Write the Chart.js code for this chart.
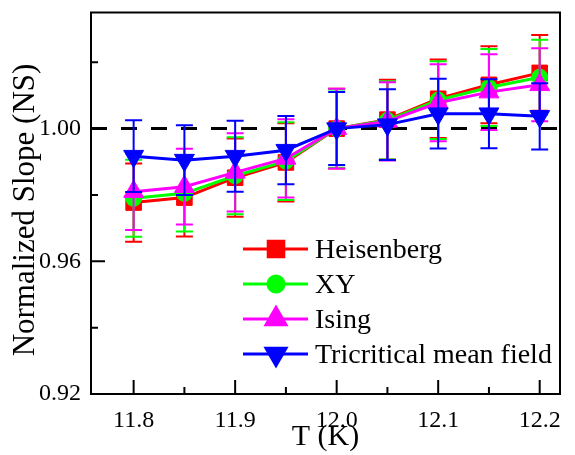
<!DOCTYPE html>
<html lang="en">
<head>
    <meta charset="UTF-8">
    <title>Normalized Slope</title>
    <script src="https://cdn.jsdelivr.net/npm/chart.js"></script>
    <style>
        html, body { margin: 0; padding: 0; background: #fff; }
        #wrap { width: 575px; height: 455px; }
    </style>
</head>
<body>
    <div id="wrap"><canvas id="myChart" width="575" height="455"></canvas></div>
    <script>
        // data
        var temps = [11.8, 11.85, 11.9, 11.95, 12.0, 12.05, 12.1, 12.15, 12.2];
        var heisenberg = [0.9777, 0.9792, 0.9852, 0.9898, 1.0000, 1.0027, 1.0090, 1.0132, 1.0168];
        var heisenbergErr = [0.0118, 0.0117, 0.0118, 0.0118, 0.0120, 0.0120, 0.0118, 0.0116, 0.0114];
        var xy = [0.9790, 0.9805, 0.9858, 0.9902, 1.0000, 1.0025, 1.0086, 1.0124, 1.0155];
        var xyErr = [0.0116, 0.0115, 0.0116, 0.0117, 0.0118, 0.0118, 0.0117, 0.0116, 0.0113];
        var ising = [0.9810, 0.9825, 0.9868, 0.9910, 1.0000, 1.0022, 1.0078, 1.0110, 1.0132];
        var isingErr = [0.0116, 0.0114, 0.0118, 0.0118, 0.0120, 0.0118, 0.0116, 0.0114, 0.0110];
        var tricritical = [0.9917, 0.9905, 0.9917, 0.9935, 1.0000, 1.0012, 1.0045, 1.0045, 1.0037];
        var tricriticalErr = [0.0108, 0.0105, 0.0107, 0.0103, 0.0110, 0.0107, 0.0105, 0.0104, 0.0100];

        var seriesNames = ['Heisenberg', 'XY', 'Ising', 'Tricritical mean field'];
        var xTicks = [11.8, 11.9, 12.0, 12.1, 12.2];
        var xMinor = [11.85, 11.95, 12.05, 12.15];
        var yTicks = [0.92, 0.96, 1.00];
        var yMinor = [0.94, 0.98, 1.02];
        var refLevel = 1.00;
        var yTitle = 'Normalized Slope (NS)';

        function pts(vals) {
            return vals.map(function(v, i) { return { x: temps[i], y: v }; });
        }

        var serif = "'Liberation Serif', 'Times New Roman', serif";
        Chart.defaults.font.family = serif;
        Chart.defaults.color = '#000';

        // error bars, drawn right after each dataset
        var errorBars = {
            id: 'errorBars',
            afterDatasetDraw: function(chart, args) {
                var ds = chart.data.datasets[args.index];
                if (!ds.errors) return;
                var y = chart.scales.y;
                var ctx = chart.ctx;
                ctx.save();
                ctx.strokeStyle = ds.borderColor;
                ctx.lineWidth = 2;
                args.meta.data.forEach(function(p, i) {
                    var v = ds.data[i].y, e = ds.errors[i];
                    var top = y.getPixelForValue(v + e), bot = y.getPixelForValue(v - e);
                    ctx.beginPath();
                    ctx.moveTo(p.x, top); ctx.lineTo(p.x, bot);
                    ctx.moveTo(p.x - 8.5, top); ctx.lineTo(p.x + 8.5, top);
                    ctx.moveTo(p.x - 8.5, bot); ctx.lineTo(p.x + 8.5, bot);
                    ctx.stroke();
                });
                ctx.restore();
            }
        };

        // box frame with inward ticks on left and bottom, plus the y title
        var frame = {
            id: 'frame',
            afterDatasetsDraw: function(chart) {
                var a = chart.chartArea, ctx = chart.ctx;
                var xs = chart.scales.x, ys = chart.scales.y;
                ctx.save();
                ctx.strokeStyle = '#000';
                ctx.lineWidth = 2;
                ctx.strokeRect(a.left, a.top, a.right - a.left, a.bottom - a.top);
                ctx.beginPath();
                xTicks.forEach(function(v) { var px = xs.getPixelForValue(v); ctx.moveTo(px, a.bottom); ctx.lineTo(px, a.bottom - 14); });
                xMinor.forEach(function(v) { var px = xs.getPixelForValue(v); ctx.moveTo(px, a.bottom); ctx.lineTo(px, a.bottom - 7); });
                yTicks.forEach(function(v) { var py = ys.getPixelForValue(v); ctx.moveTo(a.left, py); ctx.lineTo(a.left + 14, py); });
                yMinor.forEach(function(v) { var py = ys.getPixelForValue(v); ctx.moveTo(a.left, py); ctx.lineTo(a.left + 7, py); });
                ctx.stroke();

                // y title sits a bit below the axis middle in the original
                ctx.translate(26, 210);
                ctx.rotate(-Math.PI / 2);
                ctx.fillStyle = '#000';
                ctx.font = '31px ' + serif;
                ctx.textAlign = 'center';
                ctx.textBaseline = 'middle';
                ctx.fillText(yTitle, 0, 0);
                ctx.restore();
            }
        };

        // legend: line + marker + label, inside the plot
        var boxLegend = {
            id: 'boxLegend',
            afterDraw: function(chart) {
                var ctx = chart.ctx;
                ctx.save();
                chart.data.datasets.forEach(function(ds) {
                    if (ds.legendRow === undefined) return;
                    var rowY = 249 + ds.legendRow * 35;
                    ctx.strokeStyle = ds.borderColor;
                    ctx.lineWidth = 3;
                    ctx.beginPath();
                    ctx.moveTo(243, rowY); ctx.lineTo(308, rowY);
                    ctx.stroke();
                    ctx.fillStyle = ds.borderColor;
                    Chart.helpers.drawPoint(ctx, {
                        pointStyle: ds.pointStyle, radius: ds.pointRadius,
                        rotation: ds.pointRotation || 0, borderWidth: 1
                    }, 276, rowY);
                    ctx.fillStyle = '#000';
                    ctx.font = '28px ' + serif;
                    ctx.textBaseline = 'alphabetic';
                    ctx.fillText(ds.label, 315, rowY + 9);
                });
                ctx.restore();
            }
        };

        function series(idx, vals, errs, color, style, radius, rot) {
            return {
                label: seriesNames[idx],
                data: pts(vals),
                errors: errs,
                legendRow: idx,
                order: 4 - idx,
                borderColor: color,
                backgroundColor: color,
                borderWidth: 3,
                pointStyle: style,
                pointRadius: radius,
                pointHoverRadius: radius,
                pointRotation: rot || 0,
                pointBorderWidth: 1,
                tension: 0
            };
        }

        new Chart(document.getElementById('myChart'), {
            type: 'line',
            data: {
                datasets: [
                    {
                        label: 'ref',
                        data: [{ x: 11.758, y: refLevel }, { x: 12.22, y: refLevel }],
                        borderColor: '#000',
                        borderWidth: 3,
                        borderDash: [16, 14],
                        pointRadius: 0,
                        order: 10
                    },
                    series(0, heisenberg, heisenbergErr, '#ff0000', 'rect', 11),
                    series(1, xy, xyErr, '#00ff00', 'circle', 8),
                    series(2, ising, isingErr, '#ff00ff', 'triangle', 11.5),
                    series(3, tricritical, tricriticalErr, '#0000ff', 'triangle', 11.5, 180)
                ]
            },
            options: {
                responsive: false,
                animation: false,
                layout: { padding: { top: 12, right: 15, left: 0, bottom: 0 } },
                plugins: { legend: { display: false }, tooltip: { enabled: false } },
                scales: {
                    x: {
                        type: 'linear',
                        min: 11.758,
                        max: 12.22,
                        grid: { display: false },
                        border: { display: false },
                        afterBuildTicks: function(s) { s.ticks = xTicks.map(function(v) { return { value: v }; }); },
                        afterFit: function(s) { s.height = 61; s.paddingLeft = 0; s.paddingRight = 0; },
                        ticks: {
                            font: { family: serif, size: 24 },
                            padding: 4,
                            maxRotation: 0,
                            callback: function(v) { return v.toFixed(1); }
                        },
                        title: { display: true, text: 'T (K)', font: { family: serif, size: 30 }, padding: 0 }
                    },
                    y: {
                        min: 0.92,
                        max: 1.035,
                        grid: { display: false },
                        border: { display: false },
                        afterBuildTicks: function(s) { s.ticks = yTicks.map(function(v) { return { value: v }; }); },
                        afterFit: function(s) { s.width = 91; s.paddingTop = 0; s.paddingBottom = 0; },
                        ticks: {
                            font: { family: serif, size: 24 },
                            padding: 2,
                            callback: function(v) { return v.toFixed(2); }
                        }
                    }
                }
            },
            plugins: [errorBars, frame, boxLegend]
        });
    </script>
</body>
</html>
